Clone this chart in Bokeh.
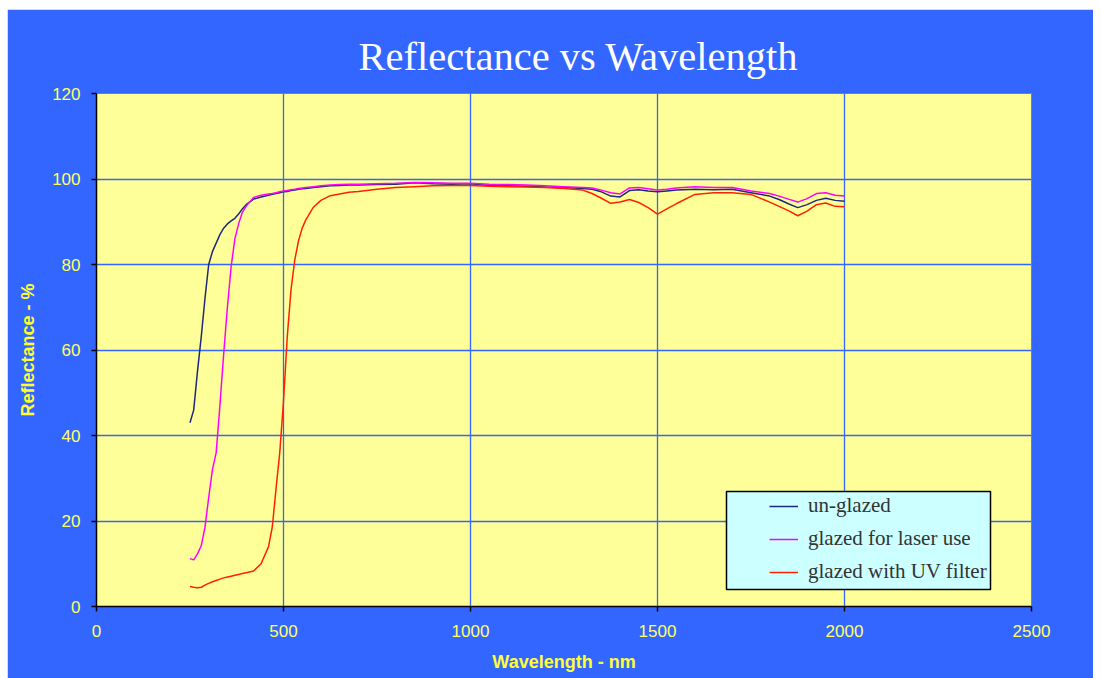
from bokeh.plotting import figure
from bokeh.models import (ColumnDataSource, FixedTicker, Legend, LegendItem,
                          BoxAnnotation)
from bokeh.embed import file_html
from bokeh.resources import INLINE

# ---- data ----
wavelength = [250, 260, 270, 280, 290, 300, 310, 320, 330, 340, 350, 360, 370, 380, 390,
              400, 420, 440, 460, 470, 480, 490, 500, 510, 520, 530, 540, 550, 560, 580,
              600, 625, 650, 675, 700, 750, 800, 850, 900, 950, 1000, 1050, 1100, 1150,
              1200, 1250, 1300, 1325, 1350, 1375, 1400, 1425, 1450, 1475, 1500, 1525,
              1550, 1600, 1650, 1700, 1750, 1800, 1825, 1850, 1875, 1900, 1925, 1950,
              1975, 2000]

unglazed = [43.0, 46.0, 55.0, 63.0, 72.0, 80.0, 83.0, 85.0, 87.0, 88.5, 89.5, 90.2, 90.8,
            91.8, 93.0, 94.0, 95.3, 95.8, 96.2, 96.4, 96.6, 96.8, 97.0, 97.1, 97.3, 97.4,
            97.6, 97.7, 97.8, 98.0, 98.2, 98.4, 98.5, 98.6, 98.6, 98.7, 98.8, 99.1, 98.9,
            98.8, 98.9, 98.5, 98.4, 98.3, 98.1, 98.0, 97.8, 97.6, 97.0, 96.0, 95.8, 97.3,
            97.5, 97.2, 97.0, 97.2, 97.4, 97.6, 97.5, 97.6, 96.8, 96.0, 95.2, 94.2, 93.3,
            94.0, 95.0, 95.5, 95.0, 94.8]

glazed_laser = [11.2, 10.9, 12.3, 14.2, 18.5, 25.5, 32.0, 36.0, 47.0, 59.0, 70.0, 79.5,
                86.0, 89.5, 92.2, 93.6, 95.7, 96.2, 96.5, 96.6, 96.8, 97.0, 97.2, 97.3,
                97.5, 97.6, 97.8, 97.9, 98.0, 98.2, 98.4, 98.6, 98.7, 98.8, 98.8, 98.9,
                99.0, 99.2, 99.1, 99.0, 99.0, 98.8, 98.7, 98.6, 98.4, 98.2, 98.0, 97.9,
                97.4, 96.8, 96.5, 97.9, 98.0, 97.7, 97.4, 97.6, 97.9, 98.2, 98.0, 98.0,
                97.2, 96.6, 96.0, 95.3, 94.6, 95.4, 96.6, 96.8, 96.2, 96.0]

glazed_uv = [4.7, 4.5, 4.4, 4.5, 5.0, 5.4, 5.8, 6.1, 6.4, 6.7, 6.9, 7.1, 7.3, 7.5, 7.7,
             7.9, 8.3, 10.0, 14.0, 18.6, 27.5, 36.0, 48.0, 63.0, 74.0, 81.0, 85.5, 88.5,
             90.5, 93.4, 95.0, 96.1, 96.5, 96.9, 97.1, 97.6, 98.0, 98.2, 98.4, 98.5,
             98.5, 98.3, 98.2, 98.1, 98.0, 97.8, 97.4, 96.6, 95.5, 94.3, 94.6, 95.2,
             94.5, 93.3, 91.8, 93.0, 94.2, 96.4, 96.8, 96.8, 96.4, 94.6, 93.6, 92.6,
             91.4, 92.5, 94.0, 94.4, 93.6, 93.5]

series_names = ["un-glazed", "glazed for laser use", "glazed with UV filter"]
x_ticks = [0, 500, 1000, 1500, 2000, 2500]
y_ticks = [0, 20, 40, 60, 80, 100, 120]
chart_title = "Reflectance vs Wavelength"

source = ColumnDataSource(dict(w=wavelength, u=unglazed, g=glazed_laser, v=glazed_uv))

BLUE = "#3366FF"
YELLOW_BG = "#FFFF99"
TICK_YELLOW = "#FFFF66"
LABEL_YELLOW = "#FFFF33"

p = figure(width=1086, height=669, output_backend="svg", toolbar_location=None,
           x_range=(0, 2500), y_range=(0, 120),
           min_border_left=89, min_border_right=62, min_border_top=84, min_border_bottom=72)
p.margin = (9, 0, 0, 7)
p.border_fill_color = BLUE
p.background_fill_color = YELLOW_BG
p.outline_line_color = "#808080"
p.outline_line_width = 1

# title
p.title.text = chart_title
p.title.align = "left"
p.title.offset = 262
p.title.standoff = 29
p.title.text_color = "white"
p.title.text_font = "Liberation Serif"
p.title.text_font_size = "40.5px"
p.title.text_font_style = "normal"

# grids
for g in (p.xgrid, p.ygrid):
    g.grid_line_color = BLUE
    g.grid_line_width = 1.3

p.xaxis.ticker = FixedTicker(ticks=x_ticks)
p.yaxis.ticker = FixedTicker(ticks=y_ticks)

for ax in (p.xaxis, p.yaxis):
    ax.axis_line_color = "black"
    ax.axis_line_width = 1.5
    ax.major_tick_line_color = "black"
    ax.major_tick_line_width = 1.5
    ax.major_tick_out = 5
    ax.major_tick_in = 0
    ax.minor_tick_line_color = None
    ax.major_label_text_color = TICK_YELLOW
    ax.major_label_text_font = "Liberation Sans"
    ax.major_label_text_font_size = "17px"
    ax.axis_label_text_color = LABEL_YELLOW
    ax.axis_label_text_font = "Liberation Sans"
    ax.axis_label_text_font_size = "18px"
    ax.axis_label_text_font_style = "bold"

p.xaxis.axis_label = "Wavelength - nm"
p.yaxis.axis_label = "Reflectance - %"
p.xaxis.major_label_standoff = 13
p.xaxis.axis_label_standoff = 12
p.yaxis.major_label_standoff = 11
p.yaxis.axis_label_standoff = 11

r1 = p.line("w", "u", source=source, line_color="#1C2A78", line_width=1.5)
r2 = p.line("w", "g", source=source, line_color="#FF00FF", line_width=1.5)
r3 = p.line("w", "v", source=source, line_color="#FF2200", line_width=1.5)

# legend box
box = BoxAnnotation(left=630, right=894, top=115, bottom=17,
                    left_units="screen", right_units="screen",
                    top_units="screen", bottom_units="screen",
                    fill_color="#CCFFFF", fill_alpha=1.0,
                    line_color="black", line_alpha=1.0, line_width=1.5)
p.add_layout(box)

legend = Legend(items=[LegendItem(label=series_names[0], renderers=[r1]),
                       LegendItem(label=series_names[1], renderers=[r2]),
                       LegendItem(label=series_names[2], renderers=[r3])],
                location=(673, 22), padding=0, margin=0, spacing=8,
                glyph_width=29, glyph_height=24, label_height=24, label_standoff=10,
                label_text_font="Liberation Serif", label_text_font_size="21px",
                label_text_color="#333333",
                background_fill_alpha=0, border_line_alpha=0)
p.add_layout(legend)

open("out.html", "w").write(file_html(p, INLINE))
